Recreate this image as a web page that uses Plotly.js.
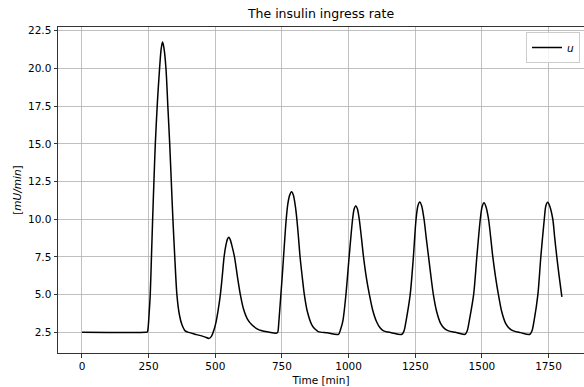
<!DOCTYPE html>
<html>
<head>
<meta charset="utf-8">
<script src="https://cdn.plot.ly/plotly-3.0.1.min.js"></script>
<style>
html,body{margin:0;padding:0;overflow:hidden;background:#fff;}
#chart{width:584px;height:387px;}
</style>
</head>
<body>
<div id="chart"></div>
<script>
// Time [min]
const timeMin = [
  0, 240, 245, 248, 252, 256, 260, 265, 270, 275, 283, 291, 297, 302, 307, 315, 322, 329, 335, 341, 348, 356, 365, 375, 387,
  400, 430, 460, 477, 486, 494, 503, 511, 519, 526, 533, 540, 546, 551, 556, 563, 572, 583, 594, 605, 620, 637, 655, 675, 700, 728,
  734, 738, 741, 746, 751, 756, 761, 766, 772, 779, 786, 793, 800, 806, 812, 818, 826, 834, 845, 862, 875, 886, 920, 962,
  970, 979, 990, 1002, 1015, 1021, 1027, 1033, 1040, 1048, 1056, 1066, 1078, 1090, 1105, 1118, 1131, 1160, 1200,
  1208, 1216, 1231, 1243, 1253, 1260, 1267, 1274, 1283, 1291, 1300, 1309, 1318, 1330, 1345, 1360, 1375, 1400, 1437,
  1445, 1453, 1469, 1481, 1494, 1501, 1508, 1515, 1525, 1533, 1541, 1551, 1562, 1574, 1589, 1604, 1618, 1645, 1680,
  1688, 1696, 1710, 1721, 1734, 1740, 1747, 1754, 1766, 1773, 1781, 1790, 1800
];
// insulin ingress rate u [mU/min]
const uRate = [
  2.5, 2.5, 2.52, 2.8, 3.8, 5.0, 7.2, 10.0, 12.6, 15.0, 17.8, 20.0, 21.3, 21.75, 21.4, 20.0, 17.5, 15.0, 12.5, 10.0, 7.5, 5.0, 3.7, 3.0, 2.6,
  2.5, 2.35, 2.2, 2.1, 2.25, 2.6, 3.2, 4.0, 5.0, 6.2, 7.5, 8.3, 8.7, 8.8, 8.65, 8.2, 7.5, 6.2, 5.0, 4.1, 3.4, 3.0, 2.75, 2.6, 2.52, 2.44,
  2.5, 3.1, 3.8, 5.0, 6.2, 7.5, 8.8, 10.0, 11.0, 11.6, 11.82, 11.6, 10.9, 10.0, 8.8, 7.5, 6.2, 5.0, 3.9, 3.0, 2.7, 2.55, 2.47, 2.37,
  2.7, 3.3, 5.0, 7.5, 10.0, 10.7, 10.9, 10.7, 10.0, 8.8, 7.5, 6.2, 5.0, 4.0, 3.2, 2.8, 2.6, 2.48, 2.37,
  2.6, 3.3, 5.0, 7.5, 10.0, 10.9, 11.15, 10.9, 10.0, 8.8, 7.5, 6.2, 5.0, 3.9, 3.1, 2.75, 2.6, 2.5, 2.37,
  2.6, 3.3, 5.0, 7.5, 10.0, 10.85, 11.1, 10.85, 10.0, 8.8, 7.5, 6.2, 5.0, 3.9, 3.1, 2.75, 2.6, 2.48, 2.37,
  2.6, 3.3, 5.0, 7.5, 10.0, 10.9, 11.13, 10.9, 10.0, 8.8, 7.5, 6.2, 4.85
];
const xTicks = [0, 250, 500, 750, 1000, 1250, 1500, 1750];
const yTicks = [2.5, 5.0, 7.5, 10.0, 12.5, 15.0, 17.5, 20.0, 22.5];

const font = {family: 'DejaVu Sans', size: 10.5, color: '#000'};

const traces = [{
  x: timeMin, y: uRate, type: 'scatter', mode: 'lines', name: '<i>u</i>',
  line: {color: '#000', width: 1.5, shape: 'spline', smoothing: 0.8}
}];

const layout = {
  width: 584, height: 387,
  margin: {l: 58, r: 0, t: 27, b: 34, pad: 0},
  paper_bgcolor: '#fff', plot_bgcolor: '#fff',
  font: font,
  title: {text: 'The insulin ingress rate', font: {family: 'DejaVu Sans', size: 12.5, color: '#000'},
          x: 0.5, xref: 'paper', xanchor: 'center', y: 1 - 14/387, yref: 'container', yanchor: 'middle'},
  xaxis: {
    range: [-90, 1883], tickvals: xTicks, ticktext: xTicks.map(String),
    showgrid: true, gridcolor: '#b0b0b0', gridwidth: 0.8, zeroline: false,
    showline: true, linecolor: '#333', linewidth: 1, mirror: true,
    ticks: 'outside', ticklen: 3.5, tickwidth: 0.8, tickcolor: '#000',
    title: {text: 'Time [min]', font: font, standoff: 5}, automargin: false
  },
  yaxis: {
    range: [1.13, 22.75], tickvals: yTicks, ticktext: yTicks.map(v => v.toFixed(1)),
    showgrid: true, gridcolor: '#b0b0b0', gridwidth: 0.8, zeroline: false,
    showline: true, linecolor: '#333', linewidth: 1, mirror: false,
    ticks: 'outside', ticklen: 3.5, tickwidth: 0.8, tickcolor: '#000',
    title: {text: '[<i>mU/min</i>]', font: font, standoff: 4}, automargin: false
  },
  showlegend: true,
  legend: {
    x: (580 - 58) / 526, xanchor: 'right', y: (353 - 32) / 326, yanchor: 'top',
    bgcolor: 'rgba(255,255,255,0.8)', bordercolor: '#cccccc', borderwidth: 1,
    font: font, itemwidth: 30
  }
};

Plotly.newPlot('chart', traces, layout, {displayModeBar: false, staticPlot: true});
</script>
</body>
</html>
